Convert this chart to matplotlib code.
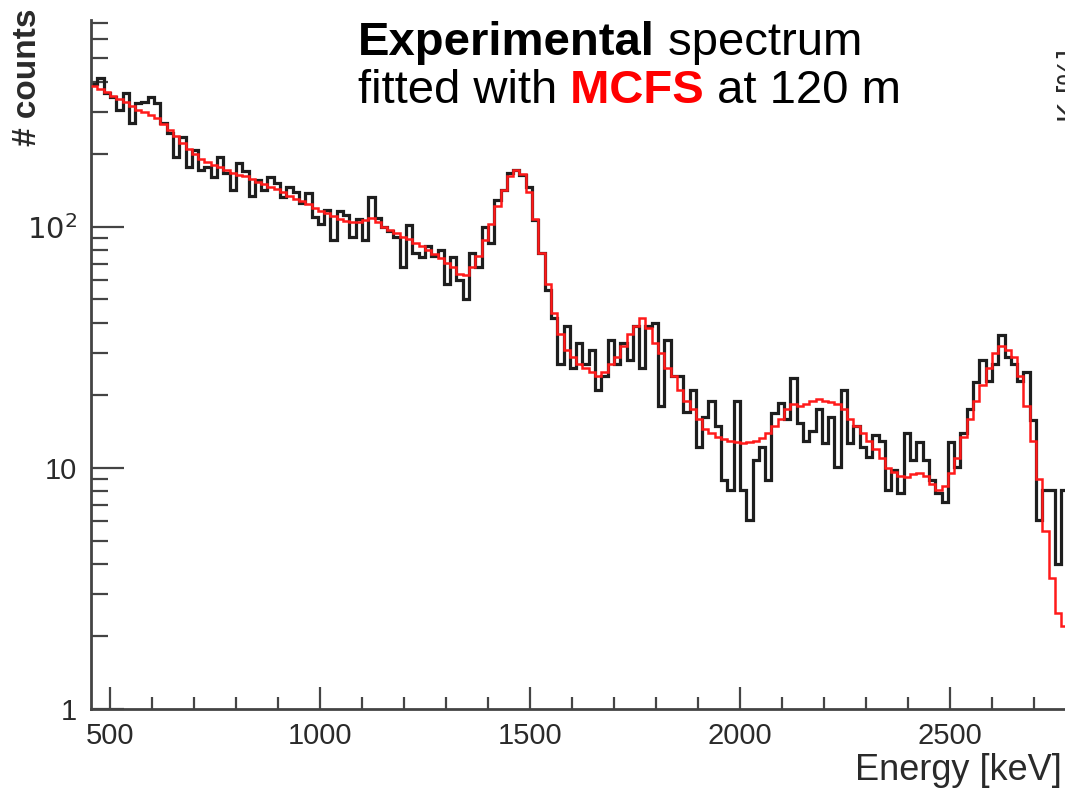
import numpy as np
import matplotlib
matplotlib.use("Agg")
import matplotlib.pyplot as plt
from matplotlib.ticker import FixedLocator, FixedFormatter, MultipleLocator, LogLocator, NullFormatter

plt.rcParams['font.family'] = ['Liberation Sans', 'DejaVu Sans']

# ---------------- data ----------------
bin_start = 455      # keV, lower edge of first bin
bin_width = 15       # keV

data_counts = [
    390, 415, 360, 345, 305, 360, 270, 326, 330, 345,
    326, 270, 245, 195, 236, 178, 208, 172, 178, 161,
    195, 167, 142, 184, 170, 135, 157, 142, 161, 152,
    133, 147, 140, 126, 138, 110, 103, 118, 88, 117,
    112, 91, 108, 88, 133, 109, 100, 96, 91, 68,
    102, 78, 75, 83, 76, 80, 58, 75, 60, 50,
    78, 68, 100, 86, 129, 142, 167, 172, 165, 147,
    107, 78, 55, 42, 27, 39, 26, 33, 27, 31,
    21, 24, 34, 27, 33, 28, 39, 26, 39, 40,
    18, 34, 24, 24, 17, 21, 12.2, 16.3, 19, 15,
    8.9, 8.1, 19, 8.1, 6.1, 10.8, 12.2, 8.9, 16.9, 18.6,
    16, 23.6, 15.4, 13, 14.3, 17.5, 12.7, 16.3, 10.1, 21,
    12.7, 15, 12.2, 11.1, 13.7, 13, 8.1, 9.8, 7.9, 14,
    10.8, 12.8, 10.8, 8.9, 7.9, 7.2, 12.8, 10.1, 14, 17.5,
    22.7, 28, 23, 27, 35.5, 29, 27, 23, 25, 15.8,
    6.1, 8.1, 8.1, 4.0, 8.1,
]

fit_counts = [
    385, 372, 362, 350, 340, 330, 318, 306, 300, 292,
    284, 268, 252, 238, 224, 210, 200, 192, 186, 181,
    177, 172, 168, 165, 162, 158, 153, 150, 146, 143,
    139, 135, 131, 128, 124, 120, 117, 114, 111, 108,
    106, 105, 105, 107, 109, 105, 100, 97, 94, 91,
    89, 86, 83, 80, 77, 74, 71, 68, 64, 63,
    68, 76, 88, 103, 122, 142, 162, 172, 166, 140,
    108, 78, 58, 44, 36, 31, 29, 27, 26, 25,
    24, 25, 27, 29, 32, 36, 39, 42, 38, 33,
    30, 26, 24, 21, 19, 17.5, 16, 14.5, 14, 13.5,
    13.2, 13, 12.8, 12.7, 12.8, 13, 13.3, 14, 15, 16,
    17.5, 18.5, 18, 18.5, 19, 19.3, 19, 18.8, 18.5, 17.5,
    16, 15, 14, 13, 12, 11, 10, 9.6, 9.3, 9.2,
    9.4, 9.5, 9.3, 8.6, 8.1, 8.4, 9.5, 11, 13.5, 16,
    19, 22, 26, 30, 32, 31, 29, 24, 18, 13,
    9, 5.5, 3.5, 2.5, 2.2,
]

x_major = [500, 1000, 1500, 2000, 2500]
y_major = [1, 10, 100]
y_major_labels = ["1", "10", "$10^2$"]

# ---------------- figure ----------------
W, H = 1065, 791
fig = plt.figure(figsize=(W / 100, H / 100), dpi=100)
ax = fig.add_axes([91 / W, 82 / H, (W - 91) / W, (709 - 20) / H])

edges = bin_start + bin_width * np.arange(len(data_counts) + 1)
ax.stairs(data_counts, edges, baseline=None, color="#1e1e1e", lw=2.3, zorder=2)
ax.stairs(fit_counts, edges, baseline=None, color="#ff1a1a", lw=1.8, zorder=3)

ax.set_yscale("log")
ax.set_xlim(455, 2774)
ax.set_ylim(1, 722)

ax.xaxis.set_major_locator(FixedLocator(x_major))
ax.xaxis.set_minor_locator(MultipleLocator(100))
ax.yaxis.set_major_locator(FixedLocator(y_major))
ax.yaxis.set_major_formatter(FixedFormatter(y_major_labels))
ax.yaxis.set_minor_locator(LogLocator(base=10, subs=np.arange(2, 10)))
ax.yaxis.set_minor_formatter(NullFormatter())

for s in ("top", "right"):
    ax.spines[s].set_visible(False)
for s in ("left", "bottom"):
    ax.spines[s].set_color("#444444")
    ax.spines[s].set_linewidth(2)

tc = "#444444"
ax.tick_params(axis="x", which="major", direction="in", length=16, width=1.6,
               color=tc, labelsize=21, labelcolor="#2a2a2a", pad=9)
ax.tick_params(axis="x", which="minor", direction="in", length=8.5, width=1.6, color=tc)
ax.tick_params(axis="y", which="major", direction="in", length=24, width=1.6,
               color=tc, labelsize=21, labelcolor="#2a2a2a", pad=10)
ax.tick_params(axis="y", which="minor", direction="in", length=12, width=1.6, color=tc)

fig.text(28 / W, 1 - 8 / H, "# counts", rotation=90, ha="center", va="top",
         fontsize=24, fontweight="bold", color="#2a2a2a")
fig.text(1062 / W, 1 - 771 / H, "Energy [keV]", ha="right", va="center",
         fontsize=26, color="#2a2a2a")

# partially cropped label of a neighbouring panel at the right edge
fig.text(1057 / W, 1 - 85 / H, "K [%]", rotation=90, ha="left", va="center",
         fontsize=22, color="#2a2a2a")

# ---------------- annotation with mixed styles ----------------
fs = 34
t1 = fig.text(358 / W, 1 - 55 / H, "Experimental", fontsize=fs, fontweight="bold",
              color="black", ha="left", va="baseline")
t2 = ax.annotate(" spectrum", xy=(1, 0), xycoords=t1, fontsize=fs, color="black",
                 ha="left", va="bottom", annotation_clip=False)
t3 = fig.text(358 / W, 1 - 103 / H, "fitted with", fontsize=fs, color="black",
              ha="left", va="baseline")
t4 = ax.annotate(" MCFS", xy=(1, 0), xycoords=t3, fontsize=fs, fontweight="bold",
                 color="#ff0000", ha="left", va="bottom", annotation_clip=False)
t5 = ax.annotate(" at 120 m", xy=(1, 0), xycoords=t4, fontsize=fs, color="black",
                 ha="left", va="bottom", annotation_clip=False)

fig.savefig("out.png", dpi=100)
